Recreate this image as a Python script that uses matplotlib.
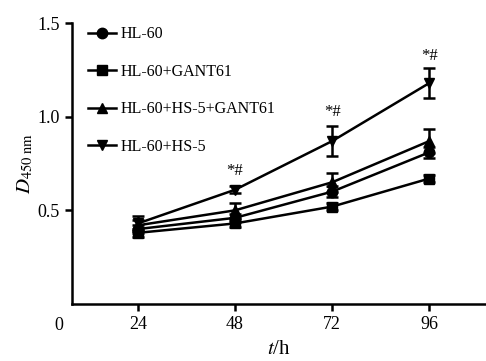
import matplotlib.pyplot as plt
from matplotlib.lines import Line2D

plt.rcParams['font.family'] = ['Liberation Serif', 'DejaVu Serif']
plt.rcParams['mathtext.fontset'] = 'stix'

hours = [24, 48, 72, 96]

hl60 = [0.40, 0.46, 0.60, 0.81]
hl60_err = [0.02, 0.02, 0.03, 0.03]
gant = [0.38, 0.43, 0.52, 0.67]
gant_err = [0.02, 0.02, 0.02, 0.02]
hs5_gant = [0.42, 0.50, 0.65, 0.87]
hs5_gant_err = [0.03, 0.04, 0.05, 0.065]
hs5 = [0.43, 0.61, 0.87, 1.18]
hs5_err = [0.04, 0.02, 0.08, 0.08]

sig_x = [48, 72, 96]
sig_y = [0.67, 0.98, 1.28]

series = [
    ('HL-60', hl60, hl60_err, 'o'),
    ('HL-60+GANT61', gant, gant_err, 's'),
    ('HL-60+HS-5+GANT61', hs5_gant, hs5_gant_err, '^'),
    ('HL-60+HS-5', hs5, hs5_err, 'v'),
]

fig = plt.figure(figsize=(4.86, 3.61), dpi=100)
ax = fig.add_axes([0.148, 0.158, 0.852, 0.778])

handles = []
for label, y, err, m in series:
    ax.errorbar(hours, y, yerr=err, color='black', marker=m, markersize=7.5,
                linewidth=1.8, elinewidth=1.8, capsize=4.5, capthick=1.8)
    handles.append(Line2D([], [], color='black', marker=m, markersize=7.5,
                          linewidth=1.8, label=label))

for x, y in zip(sig_x, sig_y):
    ax.text(x, y, '*#', ha='center', va='bottom', fontsize=12)

ax.set_xlim(7.7, 110)
ax.set_ylim(0, 1.5)
ax.set_xticks(hours)
ax.set_yticks([0.5, 1.0, 1.5])
ax.set_yticklabels(['0.5', '1.0', '1.5'])
ax.tick_params(direction='out', width=1.8, length=5, labelsize=13)
ax.text(-0.02, -0.075, '0', transform=ax.transAxes, ha='right', va='center', fontsize=13)

for s in ['top', 'right']:
    ax.spines[s].set_visible(False)
for s in ['left', 'bottom']:
    ax.spines[s].set_linewidth(1.8)

ax.set_ylabel(r'$D_{\mathrm{450\ nm}}$', fontsize=15, labelpad=2)
ax.set_xlabel(r'$t$/h', fontsize=15, labelpad=5)

ax.legend(handles=handles, loc='upper left', bbox_to_anchor=(0.005, 1.04), frameon=False,
          fontsize=11.5, handlelength=1.7, labelspacing=1.35, handletextpad=0.3)

fig.savefig('out.png', dpi=100)
